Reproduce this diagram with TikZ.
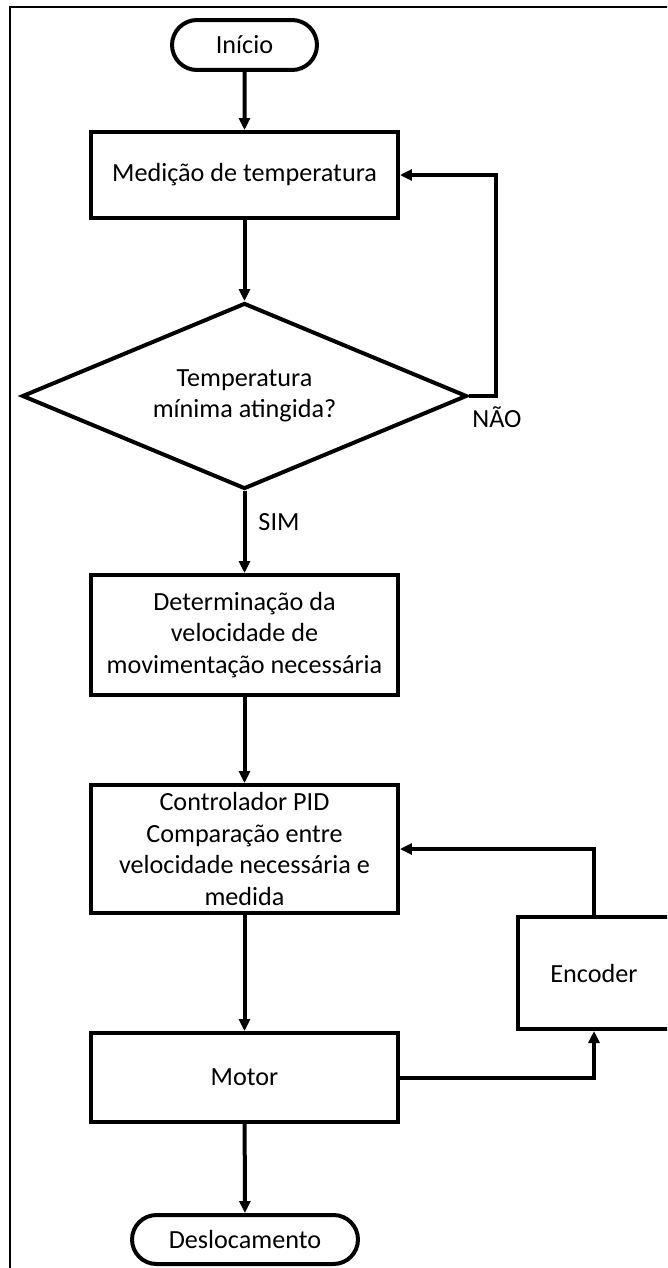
\documentclass[tikz,border=0pt]{standalone}
\usepackage{fontspec}
\setmainfont{Carlito}
\usetikzlibrary{shapes.geometric, shapes.misc, arrows.meta}

\begin{document}
\begin{tikzpicture}[x=0.02cm, y=-0.02cm, line width=0.08cm, >={Triangle[length=0.24cm, width=0.22cm]}, every node/.style={draw, line width=0.08cm, inner sep=0pt, align=center, font=\fontsize{14.9}{17.9}\selectfont}]
\useasboundingbox (0,0) rectangle (667,1268);
\clip (0,0) rectangle (667,1268);
\draw[line width=0.04cm] (10,7) rectangle (700,1300);
\node[rounded rectangle, minimum width=2.9cm, minimum height=1.0cm] (Inicio) at (244.5,45) {Início};
\node[rectangle, minimum width=6.14cm, minimum height=1.72cm] (Medicao) at (244.5,175) {Medição de temperatura};
\node[diamond, aspect=2.4, minimum width=8.9cm, minimum height=3.72cm] (Temp) at (244.5,396) {Temperatura\\mínima atingida?};
\node[rectangle, minimum width=6.14cm, minimum height=2.4cm] (Determ) at (244.5,635) {Determinação da\\velocidade de\\movimentação necessária};
\node[rectangle, minimum width=6.14cm, minimum height=2.56cm] (PID) at (244.5,849) {Controlador PID\\Comparação entre\\velocidade necessária e\\medida};
\node[rectangle, minimum width=3.04cm, minimum height=2.24cm] (Encoder) at (594,973) {Encoder};
\node[rectangle, minimum width=6.14cm, minimum height=1.78cm] (Motor) at (244.5,1077.5) {Motor};
\node[rounded rectangle, minimum width=4.52cm, minimum height=0.98cm] (Desloc) at (245,1239.5) {Deslocamento};
\node[draw=none] (Nao) at (497,417) {NÃO};
\node[draw=none] (Sim) at (279,522) {SIM};
\draw[->] (Inicio) -- (Medicao);
\draw[->] (Medicao) -- (Temp);
\draw[->] (Temp.east) -- ++(27,0) |- (Medicao.east);
\draw[->] (Temp) -- (Determ);
\draw[->] (Determ) -- (PID);
\draw[->] (PID) -- (Motor);
\draw[->] (Motor.east) -| (Encoder.south);
\draw[->] (Encoder.north) |- (PID.east);
\draw[->] (Motor) -- (Desloc);
\end{tikzpicture}
\end{document}
